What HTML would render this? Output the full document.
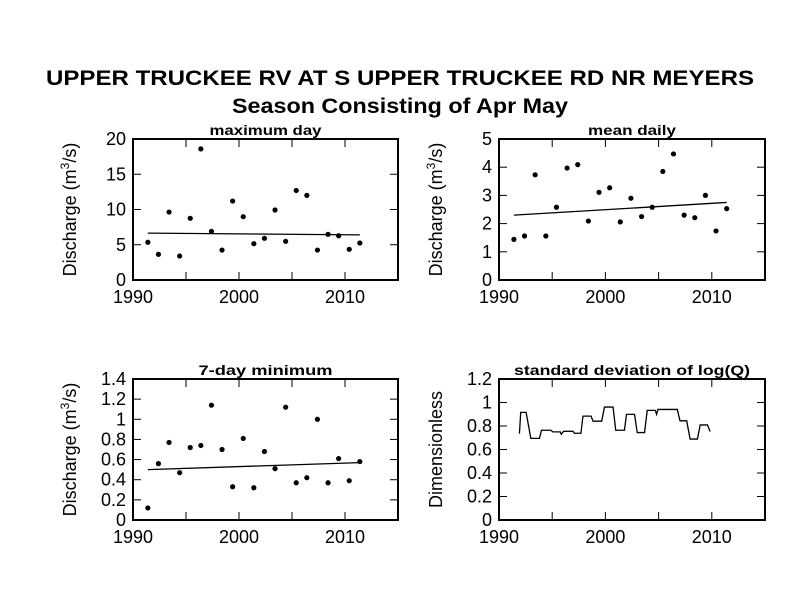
<!DOCTYPE html>
<html><head><meta charset="utf-8"><style>
body{margin:0;background:#fff;font-family:"Liberation Sans",Arial,sans-serif}
svg text{font-family:"Liberation Sans",Arial,sans-serif}
</style></head><body>
<svg id="c" width="800" height="600" viewBox="0 0 800 600">
<rect width="800" height="600" fill="#fff"/>
<text x="400" y="85" text-anchor="middle" font-size="21" font-weight="bold" textLength="708" lengthAdjust="spacingAndGlyphs">UPPER TRUCKEE RV AT S UPPER TRUCKEE RD NR MEYERS</text>
<text x="400" y="113" text-anchor="middle" font-size="21" font-weight="bold" textLength="336" lengthAdjust="spacingAndGlyphs">Season Consisting of Apr May</text>
</svg>
<script>
const years = [1991.4,1992.4,1993.4,1994.4,1995.4,1996.4,1997.4,1998.4,1999.4,2000.4,2001.4,2002.4,2003.4,2004.4,2005.4,2006.4,2007.4,2008.4,2009.4,2010.4,2011.4];
const maxDay = [5.35,3.64,9.64,3.40,8.75,18.6,6.9,4.25,11.2,8.98,5.15,5.91,9.93,5.49,12.7,12.0,4.25,6.48,6.28,4.35,5.25];
const maxDayTrend = [6.65,6.4];
const meanDaily = [1.44,1.56,3.73,1.56,2.58,3.97,4.09,2.09,3.11,3.27,2.06,2.90,2.25,2.58,3.85,4.47,2.30,2.21,3.00,1.74,2.53];
const meanDailyTrend = [2.30,2.75];
const min7 = [0.12,0.56,0.77,0.47,0.72,0.74,1.14,0.70,0.33,0.81,0.32,0.68,0.51,1.12,0.37,0.42,1.00,0.37,0.61,0.39,0.58];
const min7Trend = [0.50,0.57];
const sdYears = [1991.92,1992.04,1992.55,1992.99,1993.80,1993.99,1994.87,1995.06,1995.75,1995.85,1996.07,1996.95,1997.08,1997.70,1997.89,1998.65,1998.84,1999.65,1999.91,2000.72,2000.97,2001.79,2001.98,2002.74,2002.99,2003.68,2003.93,2004.69,2004.81,2004.94,2006.76,2007.01,2007.64,2007.96,2008.65,2008.91,2009.59,2009.84];
const sdLog = [0.735,0.916,0.916,0.695,0.695,0.764,0.764,0.75,0.75,0.73,0.755,0.755,0.738,0.738,0.884,0.884,0.841,0.841,0.961,0.961,0.764,0.764,0.899,0.899,0.744,0.744,0.933,0.933,0.90,0.941,0.941,0.844,0.844,0.689,0.689,0.809,0.809,0.753];
const xTicks = [1990,2000,2010];
const svg = document.getElementById('c');
const NS = 'http://www.w3.org/2000/svg';
function mk(tag, attrs, parent){const e=document.createElementNS(NS,tag);for(const k in attrs)e.setAttribute(k,attrs[k]);(parent||svg).appendChild(e);return e;}
function panel(o){
  const g=mk('g',{});
  
  
  const x=v=>o.x0+(v-1990)/25*(o.x1-o.x0);
  const y=v=>o.y1-(v-o.ymin)/(o.ymax-o.ymin)*(o.y1-o.y0);
  for(let v=1990;v<=2015;v+=5){
    mk('line',{x1:x(v),x2:x(v),y1:o.y0,y2:o.y0+8,stroke:'#000','stroke-width':1},g);
    mk('line',{x1:x(v),x2:x(v),y1:o.y1,y2:o.y1-8,stroke:'#000','stroke-width':1},g);
  }
  for(const v of o.yTicks){
    mk('line',{x1:o.x0,x2:o.x0+8,y1:y(v),y2:y(v),stroke:'#000','stroke-width':1},g);
    mk('line',{x1:o.x1,x2:o.x1-8,y1:y(v),y2:y(v),stroke:'#000','stroke-width':1},g);
    const t=mk('text',{x:o.x0-7,y:y(v)+6,'text-anchor':'end','font-size':18},g);
    t.textContent=String(v);
    
    
  }
  for(const v of xTicks){
    const t=mk('text',{x:x(v),y:o.y1+23,'text-anchor':'middle','font-size':18},g);
    t.textContent=String(v);
    
    
  }
  const b=mk('rect',{x:o.x0,y:o.y0,width:o.x1-o.x0,height:o.y1-o.y0,fill:'none',stroke:'#000','stroke-width':2},g);
  
  
  const tt=mk('text',{x:(o.x0+o.x1)/2,y:o.y0-4,'text-anchor':'middle','font-size':14,'font-weight':'bold',textLength:o.tlen,lengthAdjust:'spacingAndGlyphs'},g);
  tt.textContent=o.title;
  
  
  const yl=mk('text',{x:0,y:0,'text-anchor':'middle','font-size':18,transform:`translate(${o.x0-57},${(o.y0+o.y1)/2}) rotate(-90)`},g);
  if(o.units){yl.innerHTML='Discharge (m<tspan baseline-shift="super" font-size="12">3</tspan>/s)';}
  else yl.textContent='Dimensionless';
  
  
  if(o.points){
    o.points.forEach((v,i)=>{
      const c=mk('circle',{cx:x(years[i]),cy:y(v),r:2.6,fill:'#000'},g);
      
      
    });
    const l=mk('line',{x1:x(years[0]),y1:y(o.trend[0]),x2:x(years[years.length-1]),y2:y(o.trend[1]),stroke:'#000','stroke-width':1.3},g);
    
    
  }
  if(o.line){
    const p=mk('polyline',{points:o.lineX.map((t,i)=>x(t)+','+y(o.line[i])).join(' '),fill:'none',stroke:'#000','stroke-width':1.3},g);
    
    
  }
}
panel({name:'panel-maximum-day',title:'maximum day',tlen:112,x0:133,x1:398,y0:139,y1:280,ymin:0,ymax:20,yTicks:[0,5,10,15,20],units:true,points:maxDay,trend:maxDayTrend});
panel({name:'panel-mean-daily',title:'mean daily',tlen:88,x0:499,x1:765,y0:139,y1:280,ymin:0,ymax:5,yTicks:[0,1,2,3,4,5],units:true,points:meanDaily,trend:meanDailyTrend});
panel({name:'panel-7-day-minimum',title:'7-day minimum',tlen:134,x0:133,x1:398,y0:379,y1:520,ymin:0,ymax:1.4,yTicks:[0,0.2,0.4,0.6,0.8,1,1.2,1.4],units:true,points:min7,trend:min7Trend});
panel({name:'panel-sd-log-q',title:'standard deviation of log(Q)',tlen:236,x0:499,x1:765,y0:379,y1:520,ymin:0,ymax:1.2,yTicks:[0,0.2,0.4,0.6,0.8,1,1.2],units:false,line:sdLog,lineX:sdYears});
</script>
</body></html>
